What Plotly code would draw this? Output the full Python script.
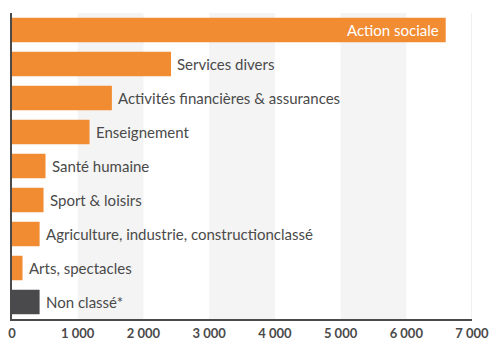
import plotly.graph_objects as go

# Number of structures per sector
sectors = [
    "Action sociale",
    "Services divers",
    "Activités financières & assurances",
    "Enseignement",
    "Santé humaine",
    "Sport & loisirs",
    "Agriculture, industrie, constructionclassé",
    "Arts, spectacles",
    "Non classé*",
]
counts = [6600, 2420, 1520, 1180, 510, 480, 420, 160, 420]
bar_colors = ["#F28C33"] * 8 + ["#4A4A4C"]
inside_label = [True] + [False] * 8

tick_values = [0, 1000, 2000, 3000, 4000, 5000, 6000, 7000]
tick_labels = ["0", "1 000", "2 000", "3 000", "4 000", "5 000", "6 000", "7 000"]
band_ranges = [(1000, 2000), (3000, 4000), (5000, 6000)]

LABEL_FONT = "Lato"

fig = go.Figure(
    go.Bar(
        y=sectors,
        x=counts,
        orientation="h",
        marker=dict(color=bar_colors, line=dict(width=0)),
        hoverinfo="x+y",
    )
)

# Sector names next to (or inside) each bar
annotations = []
for name, value, inside in zip(sectors, counts, inside_label):
    annotations.append(dict(
        x=value, y=name, xref="x", yref="y",
        text=name, showarrow=False,
        xanchor="right" if inside else "left",
        xshift=-5 if inside else 4,
        font=dict(family=LABEL_FONT, size=15, color="#FFFFFF" if inside else "#4A4A4A"),
    ))

shapes = []
for x0, x1 in band_ranges:
    shapes.append(dict(type="rect", xref="x", yref="paper", x0=x0, x1=x1, y0=0, y1=1,
                       fillcolor="#F4F4F4", line=dict(width=0), layer="below"))
shapes.append(dict(type="line", xref="x", yref="paper", x0=7000, x1=7000, y0=0, y1=1,
                   line=dict(color="#ECECEC", width=1.5), layer="below"))

fig.update_layout(
    width=491,
    height=341,
    margin=dict(l=12, r=19, t=13, b=22),
    paper_bgcolor="#FFFFFF",
    plot_bgcolor="#FFFFFF",
    bargap=0.28,
    showlegend=False,
    shapes=shapes,
    annotations=annotations,
    xaxis=dict(
        range=[0, 7000],
        tickvals=tick_values,
        ticktext=tick_labels,
        showgrid=False,
        zeroline=False,
        showline=True,
        linecolor="#4A4A4A",
        linewidth=1.5,
        ticks="",
        automargin=False,
        ticklabelstandoff=2,
        tickfont=dict(family=LABEL_FONT, size=13, color="#4A4A4A", weight="bold"),
    ),
    yaxis=dict(
        autorange="reversed",
        showticklabels=False,
        showgrid=False,
        zeroline=False,
        showline=True,
        linecolor="#4A4A4A",
        linewidth=1.5,
        ticks="",
        automargin=False,
    ),
)

fig.write_html("out.html")
